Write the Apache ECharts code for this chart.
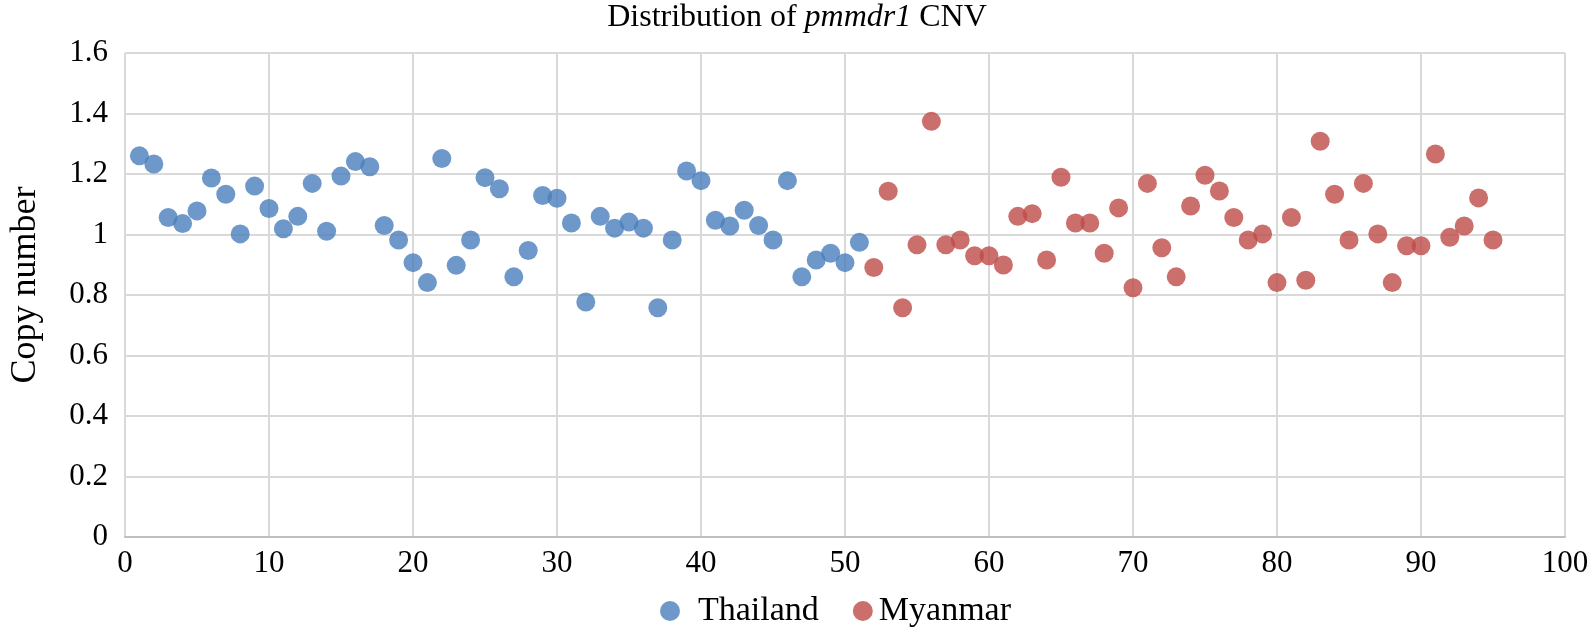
<!DOCTYPE html>
<html>
<head>
<meta charset="utf-8">
<script src="https://cdn.jsdelivr.net/npm/echarts@6/dist/echarts.min.js"></script>
<style>html,body{margin:0;padding:0;background:#fff}#c{width:1594px;height:634px}</style>
</head>
<body>
<div id="c"></div>
<script>
var thailandValues = [1.26,1.233,1.056,1.036,1.078,1.187,1.133,1.002,1.16,1.086,1.019,1.06,1.169,1.011,1.193,1.241,1.224,1.03,0.982,0.907,0.841,1.251,0.898,0.982,1.188,1.151,0.86,0.947,1.129,1.12,1.038,0.777,1.06,1.021,1.041,1.021,0.758,0.982,1.21,1.178,1.047,1.028,1.08,1.03,0.982,1.178,0.86,0.916,0.938,0.907,0.974];
var myanmarValues = [0.891,1.143,0.758,0.966,1.374,0.966,0.982,0.93,0.93,0.899,1.06,1.069,0.916,1.189,1.038,1.038,0.938,1.088,0.824,1.169,0.956,0.86,1.094,1.196,1.144,1.056,0.982,1.002,0.841,1.056,0.849,1.308,1.133,0.982,1.169,1.002,0.841,0.963,0.963,1.266,0.991,1.028,1.121,0.982];
var thailandStart = 1;
var myanmarStart = 52;
var seriesNames = ['Thailand', 'Myanmar'];

function toPoints(vals, start) {
  return vals.map(function (v, i) { return [start + i, v]; });
}

var serif = '"Liberation Serif", "DejaVu Serif", serif';
var chart = echarts.init(document.getElementById('c'));
chart.setOption({
  animation: false,
  backgroundColor: '#fff',
  title: {
    text: '{a|Distribution of }{b|pmmdr1}{a| CNV}',
    left: 'center',
    top: -3,
    textStyle: {
      fontWeight: 'normal',
      rich: {
        a: { fontFamily: serif, fontSize: 32, fontWeight: 'normal', color: '#000' },
        b: { fontFamily: serif, fontSize: 32, fontWeight: 'normal', fontStyle: 'italic', color: '#000' }
      }
    }
  },
  legend: {
    left: 660,
    top: 594,
    padding: 0,
    itemWidth: 20,
    itemHeight: 20,
    itemGap: 34,
    icon: 'circle',
    textStyle: { fontFamily: serif, fontSize: 34, color: '#000' },
    data: [
      { name: seriesNames[0], textStyle: { padding: [0, 0, 0, 13] } },
      { name: seriesNames[1], textStyle: { padding: [0, 0, 0, 1] } }
    ]
  },
  grid: { left: 122, right: 29, top: 53, bottom: 97 },
  xAxis: {
    type: 'value',
    min: 0, max: 100, interval: 10,
    axisLine: { show: true, lineStyle: { color: '#bfbfbf', width: 2 } },
    axisTick: { show: false },
    axisLabel: { fontFamily: serif, fontSize: 31, color: '#000', margin: 11 },
    splitLine: { show: true, lineStyle: { color: '#d9d9d9', width: 2 } }
  },
  yAxis: {
    type: 'value',
    min: 0, max: 1.6, interval: 0.2,
    name: 'Copy number',
    nameLocation: 'middle',
    nameGap: 81,
    nameTextStyle: { fontFamily: serif, fontSize: 36, color: '#000', padding: [0, 0, 0, 20] },
    axisLine: { show: false },
    axisTick: { show: false },
    axisLabel: { fontFamily: serif, fontSize: 31, color: '#000', margin: 17 },
    splitLine: { show: true, lineStyle: { color: '#d9d9d9', width: 2 } }
  },
  series: [
    {
      name: seriesNames[0], type: 'scatter', symbolSize: 19,
      itemStyle: { color: '#4A7EBB' },
      data: toPoints(thailandValues, thailandStart)
    },
    {
      name: seriesNames[1], type: 'scatter', symbolSize: 19,
      itemStyle: { color: '#BE4B48' },
      data: toPoints(myanmarValues, myanmarStart)
    }
  ]
});
</script>
</body>
</html>
